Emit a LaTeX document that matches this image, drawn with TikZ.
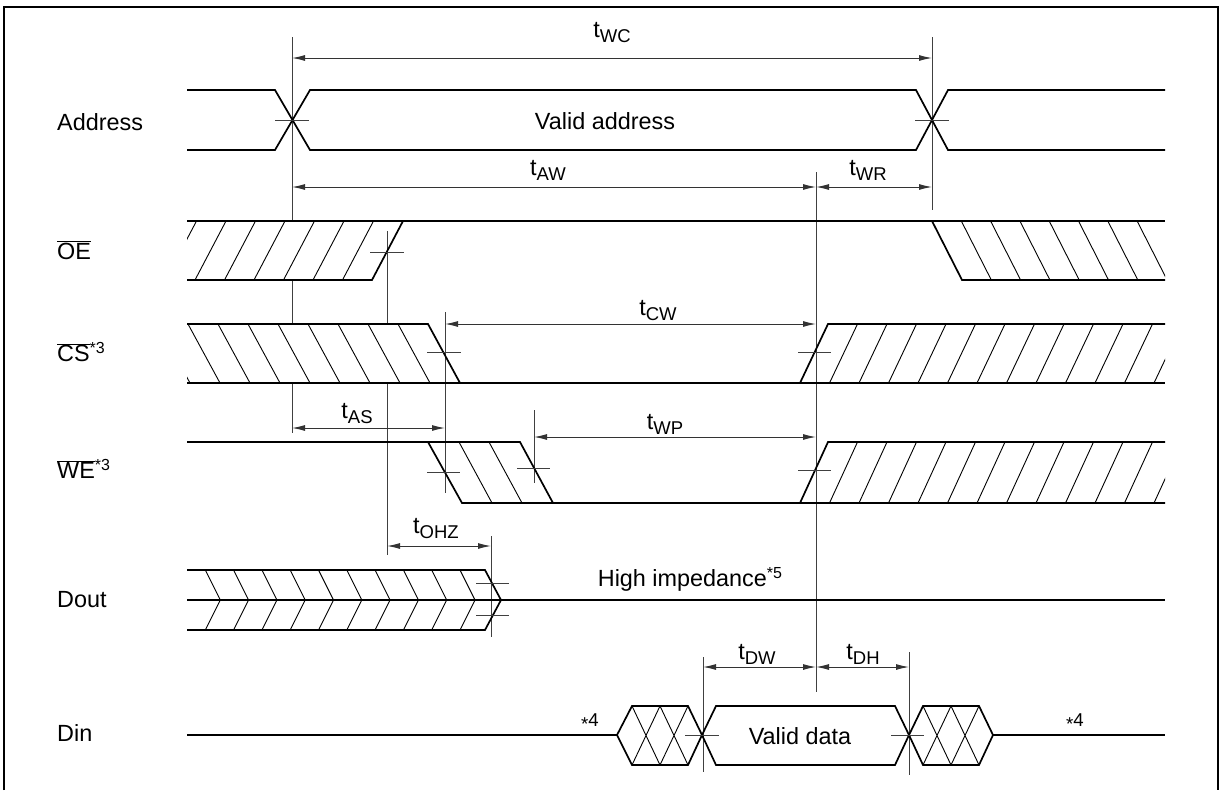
\documentclass[tikz,border=0pt]{standalone}
\usepackage{fontspec}
\setmainfont{Liberation Sans}
\usetikzlibrary{arrows.meta}
\newcommand\tsub[1]{t\raisebox{-5pt}{\fontsize{18.5}{20}\selectfont #1}}
\newcommand\fnsup[1]{\raisebox{8pt}{\fontsize{16}{18}\selectfont #1}}
\begin{document}
\begin{tikzpicture}[x=1pt,y=-1pt,
  sig/.style={line width=1.7pt,line join=miter,line cap=butt},
  thin/.style={line width=1pt,black!75},
  hatch/.style={line width=0.9pt},
  dim/.style={line width=1pt,black!80,{Latex[length=13pt,width=6pt]}-{Latex[length=13pt,width=6pt]}},
  lbl/.style={font=\fontsize{23.4}{26}\selectfont,inner sep=0pt},
  smalllbl/.style={font=\fontsize{18.6}{20}\selectfont,inner sep=0pt},
  signame/.style={lbl,anchor=west}]

\useasboundingbox (0,0) rectangle (1225,790);
% frame
\draw[line width=1.5pt] (4,790) -- (4,7) -- (1218,7) -- (1218,790);

% ---------- vertical reference lines ----------
\draw[thin] (292,37) -- (292,221) (292,280) -- (292,324) (292,383) -- (292,433);
\draw[thin] (932,37) -- (932,210);
\draw[thin] (387,231) -- (387,324) (387,383) -- (387,555);
\draw[thin] (445,312) -- (445,493);
\draw[thin] (534,410) -- (534,483);
\draw[thin] (491,536) -- (491,637);
\draw[thin] (703,657) -- (703,772);
\draw[thin] (909,652) -- (909,775);
\draw[thin] (816,172) -- (816,692);

% ---------- Address ----------
\draw[sig] (187,90) -- (275,90) -- (310,150) -- (916,150) -- (948,90) -- (1165,90);
\draw[sig] (187,150) -- (275,150) -- (310,90) -- (916,90) -- (948,150) -- (1165,150);

% ---------- OE ----------
\begin{scope}
  \clip (187,221) -- (403,221) -- (372,280) -- (187,280) -- cycle;
  \foreach \k in {1,...,7} \draw[hatch] ({372-29.5*\k},280) -- ({403-29.5*\k},221);
\end{scope}
\begin{scope}
  \clip (932,221) -- (1165,221) -- (1165,280) -- (962,280) -- cycle;
  \foreach \k in {1,...,8} \draw[hatch] ({932+29.3*\k},221) -- ({962+29.3*\k},280);
\end{scope}
\draw[sig] (187,221) -- (1165,221);
\draw[sig] (187,280) -- (372,280) -- (403,221);
\draw[sig] (932,221) -- (962,280) -- (1165,280);

% ---------- CS ----------
\begin{scope}
  \clip (187,324) -- (428,324) -- (460,383) -- (187,383) -- cycle;
  \foreach \k in {1,...,10} \draw[hatch] ({460-30*\k},383) -- ({428-30*\k},324);
\end{scope}
\begin{scope}
  \clip (800,383) -- (828,324) -- (1165,324) -- (1165,383) -- cycle;
  \foreach \k in {1,...,13} \draw[hatch] ({800+29.5*\k},383) -- ({828+29.5*\k},324);
\end{scope}
\draw[sig] (187,324) -- (428,324) -- (460,383);
\draw[sig] (187,383) -- (1165,383);
\draw[sig] (800,383) -- (828,324) -- (1165,324);

% ---------- WE ----------
\begin{scope}
  \clip (428,442) -- (520,442) -- (553,503) -- (462,503) -- cycle;
  \foreach \b in {492,522} \draw[hatch] (\b,503) -- ({\b-33},442);
\end{scope}
\begin{scope}
  \clip (800,503) -- (828,442) -- (1165,442) -- (1165,503) -- cycle;
  \foreach \k in {1,...,13} \draw[hatch] ({800+29.5*\k},503) -- ({828+29.5*\k},442);
\end{scope}
\draw[sig] (187,442) -- (520,442) -- (553,503);
\draw[sig] (428,442) -- (462,503) -- (1165,503);
\draw[sig] (800,503) -- (828,442) -- (1165,442);

% ---------- Dout ----------
\begin{scope}
  \clip (187,570) -- (485,570) -- (501,600) -- (485,630) -- (187,630) -- cycle;
  \foreach \k in {1,...,10} \draw[hatch] ({503.3-28.3*\k-15},570) -- ({503.3-28.3*\k},600) -- ({503.3-28.3*\k-15},630);
\end{scope}
\draw[sig] (187,570) -- (485,570) -- (501,600) -- (485,630) -- (187,630);
\draw[sig] (187,600) -- (1165,600);

% ---------- Din ----------
\draw[sig] (187,735) -- (617,735);
\draw[sig] (617,735) -- (632,706) -- (688,706) -- (702,735) -- (688,765) -- (632,765) -- cycle;
\draw[hatch] (632,706) -- (660,765) (660,706) -- (688,765) (660,706) -- (632,765) (688,706) -- (660,765);
\draw[sig] (702,735) -- (716,706) -- (895,706) -- (909,735) -- (895,765) -- (716,765) -- cycle;
\draw[sig] (909,735) -- (923,706) -- (979,706) -- (993,735) -- (979,765) -- (923,765) -- cycle;
\draw[hatch] (923,706) -- (951,765) (951,706) -- (979,765) (951,706) -- (923,765) (979,706) -- (951,765);
\draw[sig] (993,735) -- (1165,735);

% ---------- crossing ticks ----------
\draw[thin] (275,120) -- (309,120) (915,120) -- (949,120);
\draw[thin] (370,252) -- (404,252);
\draw[thin] (427,352) -- (461,352) (798,352) -- (831,352);
\draw[thin] (427,472) -- (460,472) (517,468) -- (550,468) (798,470) -- (831,470);
\draw[thin] (476,583) -- (509,583) (476,615) -- (509,615);
\draw[thin] (685,735) -- (719,735) (891,735) -- (924,735);

% ---------- dimension arrows ----------
\coordinate (aWC1) at (292,58);  \coordinate (aWC2) at (932,58);
\coordinate (aAW1) at (292,187); \coordinate (aAW2) at (816,187);
\coordinate (aWR2) at (932,187);
\coordinate (aCW1) at (445,324); \coordinate (aCW2) at (816,324);
\coordinate (aAS1) at (292,428); \coordinate (aAS2) at (445,428);
\coordinate (aWP1) at (534,437); \coordinate (aWP2) at (816,437);
\coordinate (aOH1) at (387,546); \coordinate (aOH2) at (491,546);
\coordinate (aDW1) at (703,667); \coordinate (aDW2) at (816,667);
\coordinate (aDH2) at (909,667);
\draw[dim] (aWC1) -- (aWC2);
\draw[dim] (aAW1) -- (aAW2);
\draw[dim] (aAW2) -- (aWR2);
\draw[dim] (aCW1) -- (aCW2);
\draw[dim] (aAS1) -- (aAS2);
\draw[dim] (aWP1) -- (aWP2);
\draw[dim] (aOH1) -- (aOH2);
\draw[dim] (aDW1) -- (aDW2);
\draw[dim] (aDW2) -- (aDH2);

% ---------- timing labels ----------
\node[lbl] (tWC) at (612,33) {\tsub{WC}};
\node[lbl] (tAW) at (548,170) {\tsub{AW}};
\node[lbl] (tWR) at (868,170) {\tsub{WR}};
\node[lbl] (tCW) at (658,311) {\tsub{CW}};
\node[lbl] (tAS) at (357,414) {\tsub{AS}};
\node[lbl] (tWP) at (665,424) {\tsub{WP}};
\node[lbl] (tOHZ) at (436,529) {\tsub{OHZ}};
\node[lbl] (tDW) at (757,654) {\tsub{DW}};
\node[lbl] (tDH) at (863,654) {\tsub{DH}};

% ---------- other texts ----------
\node[lbl] (vaddr) at (605,121) {Valid address};
\node[lbl] (vdata) at (800,736) {Valid data};
\node[lbl] (hiz) at (690,579) {High impedance\fnsup{*5}};
\node[smalllbl] (n4a) at (590,722) {\raisebox{-4pt}{*}4};
\node[smalllbl] (n4b) at (1075,722) {\raisebox{-4pt}{*}4};

% ---------- signal names ----------
\node[signame] (sAddr) at (57,122) {Address};
\node[signame] (sOE) at (57,250) {$\overline{\mbox{OE}}$};
\node[signame] (sCS) at (57,352) {$\overline{\mbox{CS}}$\fnsup{*3}};
\node[signame] (sWE) at (57,469) {$\overline{\mbox{WE}}$\fnsup{*3}};
\node[signame] (sDout) at (57,600) {Dout};
\node[signame] (sDin) at (57,733) {Din};
\end{tikzpicture}
\end{document}
